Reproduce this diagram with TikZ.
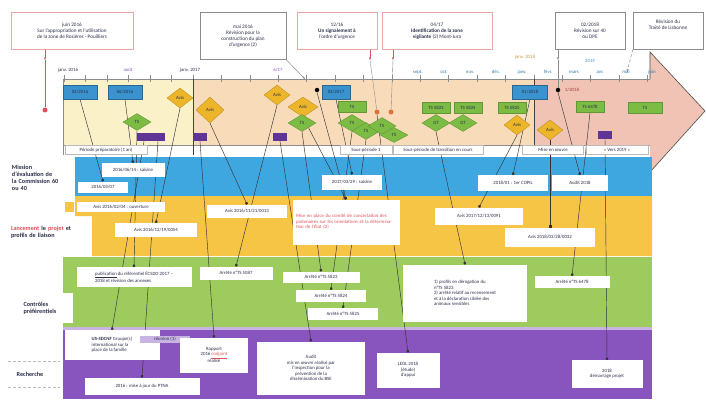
\documentclass[tikz,border=0pt]{standalone}
\usepackage{fontspec}
\setmainfont{Carlito}
\usetikzlibrary{positioning,shapes.geometric,arrows.meta,backgrounds}

\definecolor{jaunepale}{HTML}{FBF1C9}
\definecolor{peche}{HTML}{F8DCB9}
\definecolor{rose}{HTML}{F1C3B5}
\definecolor{bleu}{HTML}{3FA7E0}
\definecolor{bleufonce}{HTML}{3A93CF}
\definecolor{jaune}{HTML}{F7C545}
\definecolor{jaunefonce}{HTML}{EDB52A}
\definecolor{vert}{HTML}{9DCB5E}
\definecolor{vertfonce}{HTML}{7CBB44}
\definecolor{violet}{HTML}{8854BD}
\definecolor{violetfonce}{HTML}{5E3494}
\definecolor{violetpale}{HTML}{C9B3E3}
\definecolor{rougetexte}{HTML}{E0505A}
\definecolor{rougepale}{HTML}{EBA6A6}
\definecolor{orangerouge}{HTML}{E0703A}
\definecolor{ocre}{HTML}{C8973A}
\definecolor{gristrait}{HTML}{8C8C8C}
\definecolor{textefonce}{HTML}{2B2F4A}

\newcommand\minuscule{\fontsize{4.8}{5.5}\selectfont}
\newcommand\moyen{\fontsize{5.2}{6}\selectfont}
\newcommand\etiquette{\fontsize{6.2}{7.2}\selectfont}

\begin{document}
\begin{tikzpicture}[x=1pt,y=-1pt,
        every node/.style={font=\minuscule,text=textefonce},
        bulle/.style={draw=gristrait,fill=white,align=center,inner sep=1pt,font=\moyen},
        boite/.style={fill=white,align=center,inner sep=1pt},
        periode/.style={draw=gristrait!60,fill=white,minimum height=9,inner sep=0},
        marque/.style={draw=bleufonce!70!black,fill=bleufonce,minimum width=34,minimum height=14,inner sep=0},
        losj/.style={diamond,draw=jaunefonce!80!black,fill=jaunefonce,aspect=1.3,minimum width=26,minimum height=20,inner sep=0},
        losv/.style={diamond,draw=vertfonce!80!black,fill=vertfonce,aspect=1.5,minimum width=28,minimum height=17,inner sep=0},
        rectv/.style={draw=vertfonce!80!black,fill=vertfonce,minimum width=28,minimum height=11,inner sep=0},
        rectp/.style={fill=violetfonce,minimum width=14,minimum height=8,inner sep=0},
        pastille/.style={circle,fill=black,minimum size=4.5,inner sep=0},
        lien/.style={draw=black!80,line width=0.45pt,-{Square[length=2.2pt,width=2.2pt]}},
        fleche/.style={draw=gristrait,line width=0.5pt,-{Stealth[length=3pt]}},
        flecherouge/.style={draw=rougetexte,line width=0.5pt,-{Stealth[length=3pt]}}
    ]
    \useasboundingbox (0,0) rectangle (706,404);

    % fond : fleche du temps et bandes
    \begin{scope}[on background layer]
        \fill[white] (0,0) rectangle (706,404);
        \fill[rose] (650,52) -- (705,111) -- (650,172) -- cycle;
        \fill[jaunepale] (63,79) rectangle (193,145);
        \fill[peche] (193,79) rectangle (534,145);
        \fill[rose] (534,79) rectangle (650,145);
        \draw[black!70,line width=0.6pt] (650,79) -- (650,52) -- (705,111) -- (650,172);
        \draw[gristrait,line width=1pt] (63,79) -- (650,79);
        \draw[gristrait,line width=0.8pt] (63,145) -- (650,145);
        \draw[gristrait] (63,79) -- (63,155);
        \foreach \i in {0,...,6}
            \draw[gristrait] (64+21.5*\i,75) -- (64+21.5*\i,82);
        \foreach \i in {1,...,16}
            \draw[gristrait] (193+28.4*\i,75) -- (193+28.4*\i,82);
        \draw[black!75,line width=0.8pt] (193,79) -- (193,155) (534,79) -- (534,155);
        \fill[bleu] (75,157) rectangle (652,196);
        \fill[jaune] (75,196) -- (652,196) -- (652,256) -- (92,256) -- (92,216) -- (75,216) -- cycle;
        \fill[jaune] (65,202) rectangle (74,212);
        \fill[vert] (63,257) rectangle (652,327);
        \fill[violetpale] (63,327) rectangle (652,330);
        \fill[violet] (63,330) rectangle (652,399);
        \draw[gristrait!60,densely dashed] (8,361) -- (60,361) (8,387) -- (60,387);
    \end{scope}

    % bulles du haut
    \node[bulle,draw=rougepale,minimum width=122,minimum height=37] (c1) at (72,31) {juin 2016\\Sur l'appropriation et l'utilisation\\de la zone de Rosières - Pouilliers};
    \node[bulle,minimum width=86,minimum height=47] (c2) at (243,36) {mai 2016\\Révision pour la\\construction du plan\\d'urgence (2)};
    \node[bulle,draw=rougepale,minimum width=80,minimum height=37] (c3) at (337,31) {12/16\\\textbf{Un signalement à}\\l'ordre d'urgence};
    \node[bulle,draw=rougepale,minimum width=110,minimum height=37] (c4) at (437,31) {04/17\\\textbf{Identification de la zone}\\\textbf{vigilante} (2) Mont-Jura};
    \node[bulle,minimum width=70,minimum height=37] (c5) at (590,31) {02/2018\\Révision sur 40\\ou DPE};
    \node[bulle,minimum width=70,minimum height=37] (c6) at (668,31) {Révision du\\Traité de Lisbonne\\ \\ };

    % graduations
    \node (ax1) at (68,70) {janv. 2016};
    \node[text=violet] (ax2) at (128,70) {août};
    \node (ax3) at (190,70) {janv. 2017};
    \node[text=violet] (ax4) at (278,70) {6/17};
    \node[text=ocre] (ax5) at (525,57) {janv. 2018};
    \node[text=bleufonce] (ax6) at (590,61) {2019};
    \foreach \m [count=\k] in {sept.,oct.,nov.,déc.,janv.,févr.,mars,avr.,mai,juin}
        \node[text=bleufonce!80!black] (mois\k) at (392+26*\k,72) {\m};

    % periodes
    \node[periode,minimum width=82] (p1) at (106,150) {Période préparatoire (1 an)};
    \node[periode,minimum width=52] (p2) at (366,150) {Sous-période 1};
    \node[periode,minimum width=90] (p3) at (438,150) {Sous-période de transition en cours};
    \node[periode,minimum width=61] (p4) at (553,150) {Mise en œuvre};
    \node[periode,minimum width=62] (p5) at (617,150) {« Vers 2019 »};

    % jalons de la fleche
    \node[marque] (tb1) at (80,92) {02/2016};
    \node[marque] (tb2) at (125,92) {06/2016};
    \node[marque,minimum width=28] (tb3) at (336,92) {03/2017};
    \node[marque,minimum width=35] (tb4) at (530,92) {01/2018};
    \node[losj] (ty1) at (180,98) {Avis};
    \node[losj,minimum width=28,minimum height=26] (ty2) at (210,110) {Avis};
    \node[losj] (ty3) at (277,95) {Avis};
    \node[losj,minimum width=30] (ty4) at (303,107) {Avis};
    \node[losj] (ty5) at (517,125) {Avis};
    \node[losj] (ty6) at (550,130) {Avis};
    \node[losv] (tg1) at (137,122) {TS};
    \node[losv] (tg2) at (302,123) {TS};
    \node[rectv] (tg3) at (352,107) {TS};
    \node[losv] (tg4) at (352,123) {TS};
    \node[losv] (tg5) at (366,131) {TS};
    \node[losv] (tg6) at (382,126) {TS};
    \node[losv,minimum height=15] (tg7) at (394,135) {TS};
    \node[rectv] (tg8) at (436,108) {TS 5823};
    \node[rectv] (tg9) at (468,108) {TS 5824};
    \node[rectv] (tg10) at (512,108) {TS 5825};
    \node[losv] (tg11) at (436,123) {GT};
    \node[losv] (tg12) at (463,123) {GT};
    \node[rectv] (tg13) at (590,107) {TS 6478};
    \node[rectv,minimum width=34] (tg14) at (645,108) {TS};
    \node[rectp] (tp1) at (144,137) {};
    \node[rectp] (tp2) at (158,137) {};
    \node[rectp] (tp3) at (200,137) {};
    \node[rectp] (tp4) at (280,137) {};
    \node[rectp] (tp5) at (605,135) {};
    \node[pastille] (d1) at (317,90) {};
    \node[pastille] (d2) at (558,90) {};
    \node[right=1pt of d2,text=rougetexte!70!black] (d2t) {1/2018};
    \node[pastille,fill=rougetexte,minimum size=5] (r1) at (45,110) {};
    \node[pastille,fill=orangerouge,minimum size=5] (r2) at (377,112) {};
    \node[pastille,fill=orangerouge,minimum size=5] (r3) at (391,112) {};

    % etiquettes de gauche
    \node[font=\etiquette\bfseries,align=left,text width=52] (lab1) at (38,178) {Mission d'évaluation de la Commission 60 ou 40};
    \node[font=\etiquette\bfseries,align=left,text width=66] (lab2) at (44,232) {{\color{rougetexte}Lancement} le {\color{rougetexte}projet} et profils de liaison};
    \node[boite,font=\etiquette\bfseries,align=left,minimum width=66,minimum height=30] (lab3) at (40,308) {Contrôles\\préférentiels};
    \node[font=\etiquette\bfseries] (lab4) at (30,374) {Recherche};

    % bande bleue
    \node[boite,minimum width=63,minimum height=14] (bb1) at (133,170) {2016/06/14 : saisine};
    \node[boite,minimum width=50,minimum height=11] (bb2) at (103,187) {2016/03/07};
    \node[boite,minimum width=60,minimum height=15] (bb3) at (352,182) {2017/03/29 : saisine};
    \node[boite,minimum width=70,minimum height=16] (bb4) at (513,183) {2018/01 : 1er COPIL};
    \node[boite,minimum width=56,minimum height=16] (bb5) at (580,183) {Audit 2018};

    % bande jaune
    \node[boite,minimum width=88,minimum height=10] (yb1) at (121,207) {Avis 2016/02/04 : ouverture};
    \node[boite,minimum width=80,minimum height=13] (yb2) at (247,211) {Avis 2016/11/21/0013};
    \node[boite,minimum width=82,minimum height=14] (yb3) at (156,230) {Avis 2016/12/19/0054};
    \node[boite,text=rougetexte,align=left,minimum width=107,minimum height=45,text width=100] (yb4) at (346,222) {Mise en place du comité de concertation des partenaires sur les orientations et la détermination de l'État (2)};
    \node[boite,minimum width=88,minimum height=17] (yb5) at (479,216) {Avis 2017/12/13/0091};
    \node[boite,minimum width=90,minimum height=19] (yb6) at (550,237) {Avis 2018/03/28/0032};

    % bande verte
    \node[boite,align=left,minimum width=115,minimum height=20] (gb1) at (134,277) {\underline{publication} du référentiel ÉCSDO 2017 –\\2018 et révision des annexes};
    \node[boite,minimum width=73,minimum height=13] (gb2) at (236,273) {Arrêté n°TS 5087};
    \node[boite,minimum width=77,minimum height=11] (gb3) at (321,277) {Arrêté n°TS 5823};
    \node[boite,minimum width=70,minimum height=12] (gb4) at (331,296) {Arrêté n°TS 5824};
    \node[boite,minimum width=70,minimum height=12] (gb5) at (343,314) {Arrêté n°TS 5825};
    \node[boite,align=left,minimum width=124,minimum height=57] (gb6) at (465,293) {1) profils en dérogation du\\n°TS 5823\\2) arrêté relatif au recensement\\et à la déclaration ciblée des\\animaux sensibles};
    \node[boite,minimum width=75,minimum height=12] (gb7) at (572,282) {Arrêté n°TS 6478};

    % bande violette
    \node[boite,align=left,minimum width=95,minimum height=30] (pb1) at (112,345) {\textbf{US-SDCNF} Groupe(s)\\international sur la\\place de la famille};
    \node[fill=violetpale,minimum width=50,minimum height=7,inner sep=0] (pbx) at (165,339) {réunion (1)};
    \node[boite,minimum width=68,minimum height=35] (pb2) at (214,355) {Rapport\\2016 {\color{rougetexte}\underline{conjoint}}\\réalisé};
    \node[boite,minimum width=108,minimum height=53] (pb3) at (311,368) {Audit\\mis en œuvre réalisé par\\l'inspection pour la\\prévention de la\\dissémination du BSE};
    \node[boite,minimum width=115,minimum height=17] (pb4) at (142,386) {2016 : mise à jour du PTNA};
    \node[boite,minimum width=63,minimum height=35] (pb5) at (408,370) {LEOL 2018\\(étude)\\d'appui};
    \node[boite,minimum width=71,minimum height=28] (pb6) at (607,374) {2018\\démarrage projet};

    % fleches des bulles
    \coordinate (a1) at (45,60);
    \coordinate (a2) at (305,79);
    \coordinate (a3) at (370,60);
    \coordinate (a4) at (393,60);
    \coordinate (a5) at (558,60);
    \coordinate (a6) at (627,72);
    \begin{scope}[on background layer]
        \draw[flecherouge] (c1.south -| a1) -- (a1);
        \draw[rougetexte] (a1) -- (r1);
        \draw[fleche] (c2.south east) -- (a2);
        \draw[flecherouge] (c3.south -| a3) -- (a3);
        \draw[gristrait] (a3) -- (r2);
        \draw[flecherouge] (c4.south -| a4) -- (a4);
        \draw[gristrait] (a4) -- (r3);
        \draw[fleche] (c5.south -| a5) -- (a5);
        \draw[gristrait] (a5) -- (d2);
        \draw[fleche,densely dashed] (c6.south west) -- (a6);
        % liens vers les bandes
        \foreach \de/\vers in {tb1/bb2,tb2/bb1,tg1/gb1,tp1/pb1,tp2/pb4,ty1/yb3,ty2/yb2,tp3/pb2,
                ty3/gb2,ty4/yb4,tg2/gb3,tp4/pb3,tb3/bb3,tg4/gb4,tg5/gb5,tg11/gb6,r2/pb5,
                ty5/yb5,tb4/bb4,ty6/yb6,tg13/gb7,tp5/pb6,d2/bb5,d1/yb4}
            \draw[lien] (\de.south) -- (\vers.north);
    \end{scope}
\end{tikzpicture}
\end{document}
